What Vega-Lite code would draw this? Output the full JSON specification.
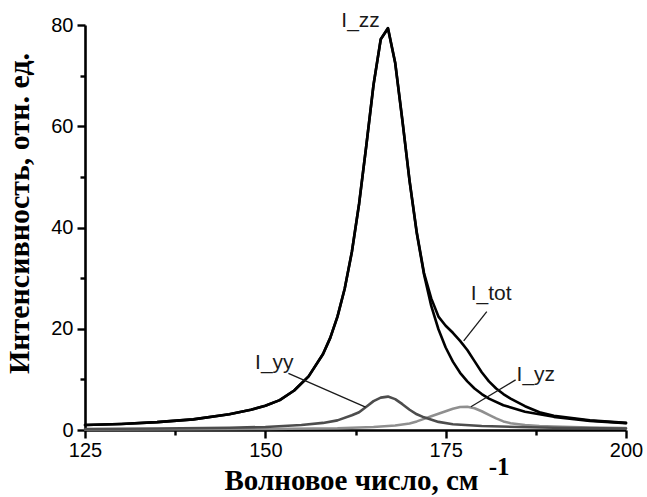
{
  "$schema": "https://vega.github.io/schema/vega-lite/v6.json",
  "width": 541,
  "height": 405,
  "autosize": "none",
  "padding": {"left": 85, "top": 25, "right": 21, "bottom": 67},
  "background": "white",
  "config": {
    "view": {"stroke": null},
    "axis": {
      "grid": false,
      "domainColor": "black",
      "domainWidth": 2.6,
      "tickColor": "black",
      "tickWidth": 2.4,
      "labelFont": "Liberation Sans",
      "labelFontSize": 20,
      "labelColor": "black",
      "titleFont": "Liberation Serif",
      "titleFontSize": 29,
      "titleFontWeight": "bold",
      "titleColor": "black",
      "labelFlush": false,
      "labelOverlap": false
    }
  },
  "encoding": {
    "x": {
      "field": "x",
      "type": "quantitative",
      "scale": {"domain": [125, 200], "nice": false, "zero": false},
      "axis": {
        "title": "Волновое число, см",
        "values": [125, 137.5, 150, 162.5, 175, 187.5, 200],
        "labelExpr": "datum.value % 25 === 0 ? datum.label : ''",
        "tickSize": {"condition": {"test": "datum.value % 25 !== 0", "value": 5}, "value": 8},
        "labelPadding": 2,
        "titleX": 266,
        "titleY": 59,
        "titleBaseline": "alphabetic",
        "titleAlign": "center"
      }
    },
    "y": {
      "field": "y",
      "type": "quantitative",
      "scale": {"domain": [0, 80], "nice": false},
      "axis": {
        "title": "Интенсивность, отн. ед.",
        "values": [0, 10, 20, 30, 40, 50, 60, 70, 80],
        "labelExpr": "datum.value % 20 === 0 ? datum.label : ''",
        "tickSize": {"condition": {"test": "datum.value % 20 !== 0", "value": 5}, "value": 8},
        "labelPadding": 4,
        "titleX": -57,
        "titleY": 188,
        "titleFontSize": 30,
        "titleBaseline": "alphabetic",
        "titleAlign": "center",
        "titleAngle": -90
      }
    }
  },
  "layer": [
    {
      "data": {"values": [
        {"s": "I_yz", "x": 125, "y": 0.1}, {"s": "I_yz", "x": 140, "y": 0.15}, {"s": "I_yz", "x": 150, "y": 0.2}, {"s": "I_yz", "x": 160, "y": 0.35}, {"s": "I_yz", "x": 165, "y": 0.6}, {"s": "I_yz", "x": 168, "y": 0.9}, {"s": "I_yz", "x": 170, "y": 1.3}, {"s": "I_yz", "x": 171, "y": 1.7}, {"s": "I_yz", "x": 172, "y": 2.2}, {"s": "I_yz", "x": 173, "y": 2.7}, {"s": "I_yz", "x": 174, "y": 3.2}, {"s": "I_yz", "x": 175, "y": 3.7}, {"s": "I_yz", "x": 176, "y": 4.2}, {"s": "I_yz", "x": 177, "y": 4.55}, {"s": "I_yz", "x": 178, "y": 4.6}, {"s": "I_yz", "x": 179, "y": 4.3}, {"s": "I_yz", "x": 180, "y": 3.7}, {"s": "I_yz", "x": 181, "y": 3.0}, {"s": "I_yz", "x": 182, "y": 2.3}, {"s": "I_yz", "x": 183, "y": 1.7}, {"s": "I_yz", "x": 184, "y": 1.35}, {"s": "I_yz", "x": 186, "y": 1.0}, {"s": "I_yz", "x": 188, "y": 0.8}, {"s": "I_yz", "x": 190, "y": 0.7}, {"s": "I_yz", "x": 195, "y": 0.5}, {"s": "I_yz", "x": 200, "y": 0.4},
        {"s": "I_yy", "x": 125, "y": 0.2}, {"s": "I_yy", "x": 135, "y": 0.3}, {"s": "I_yy", "x": 145, "y": 0.45}, {"s": "I_yy", "x": 150, "y": 0.6}, {"s": "I_yy", "x": 155, "y": 1.0}, {"s": "I_yy", "x": 158, "y": 1.4}, {"s": "I_yy", "x": 160, "y": 1.9}, {"s": "I_yy", "x": 162, "y": 2.9}, {"s": "I_yy", "x": 163, "y": 3.5}, {"s": "I_yy", "x": 164, "y": 4.6}, {"s": "I_yy", "x": 165, "y": 5.7}, {"s": "I_yy", "x": 166, "y": 6.4}, {"s": "I_yy", "x": 167, "y": 6.6}, {"s": "I_yy", "x": 168, "y": 6.1}, {"s": "I_yy", "x": 169, "y": 5.1}, {"s": "I_yy", "x": 170, "y": 4.0}, {"s": "I_yy", "x": 171, "y": 3.1}, {"s": "I_yy", "x": 172, "y": 2.5}, {"s": "I_yy", "x": 174, "y": 1.6}, {"s": "I_yy", "x": 176, "y": 1.15}, {"s": "I_yy", "x": 180, "y": 0.8}, {"s": "I_yy", "x": 185, "y": 0.6}, {"s": "I_yy", "x": 190, "y": 0.45}, {"s": "I_yy", "x": 200, "y": 0.3},
        {"s": "I_tot", "x": 125, "y": 1.0}, {"s": "I_tot", "x": 130, "y": 1.2}, {"s": "I_tot", "x": 135, "y": 1.55}, {"s": "I_tot", "x": 140, "y": 2.1}, {"s": "I_tot", "x": 145, "y": 3.1}, {"s": "I_tot", "x": 148, "y": 4.0}, {"s": "I_tot", "x": 150, "y": 4.8}, {"s": "I_tot", "x": 152, "y": 5.9}, {"s": "I_tot", "x": 154, "y": 7.8}, {"s": "I_tot", "x": 156, "y": 10.6}, {"s": "I_tot", "x": 158, "y": 15.0}, {"s": "I_tot", "x": 159, "y": 18.2}, {"s": "I_tot", "x": 160, "y": 22.4}, {"s": "I_tot", "x": 161, "y": 27.9}, {"s": "I_tot", "x": 162, "y": 35.2}, {"s": "I_tot", "x": 163, "y": 44.7}, {"s": "I_tot", "x": 164, "y": 56.2}, {"s": "I_tot", "x": 165, "y": 68.2}, {"s": "I_tot", "x": 166, "y": 77.2}, {"s": "I_tot", "x": 167, "y": 79.4}, {"s": "I_tot", "x": 168, "y": 72.6}, {"s": "I_tot", "x": 169, "y": 61.2}, {"s": "I_tot", "x": 170, "y": 49.2}, {"s": "I_tot", "x": 171, "y": 39.0}, {"s": "I_tot", "x": 172, "y": 31.0}, {"s": "I_tot", "x": 173, "y": 26.0}, {"s": "I_tot", "x": 174, "y": 22.4}, {"s": "I_tot", "x": 175, "y": 20.6}, {"s": "I_tot", "x": 176, "y": 19.2}, {"s": "I_tot", "x": 177, "y": 17.6}, {"s": "I_tot", "x": 178, "y": 15.8}, {"s": "I_tot", "x": 179, "y": 13.6}, {"s": "I_tot", "x": 180, "y": 11.4}, {"s": "I_tot", "x": 181, "y": 9.6}, {"s": "I_tot", "x": 182, "y": 8.2}, {"s": "I_tot", "x": 183, "y": 7.1}, {"s": "I_tot", "x": 184, "y": 6.2}, {"s": "I_tot", "x": 186, "y": 4.7}, {"s": "I_tot", "x": 188, "y": 3.5}, {"s": "I_tot", "x": 190, "y": 2.8}, {"s": "I_tot", "x": 195, "y": 1.9}, {"s": "I_tot", "x": 200, "y": 1.4},
        {"s": "I_zz", "x": 125, "y": 1.0}, {"s": "I_zz", "x": 130, "y": 1.2}, {"s": "I_zz", "x": 135, "y": 1.55}, {"s": "I_zz", "x": 140, "y": 2.1}, {"s": "I_zz", "x": 145, "y": 3.1}, {"s": "I_zz", "x": 148, "y": 4.0}, {"s": "I_zz", "x": 150, "y": 4.8}, {"s": "I_zz", "x": 152, "y": 5.9}, {"s": "I_zz", "x": 154, "y": 7.8}, {"s": "I_zz", "x": 156, "y": 10.6}, {"s": "I_zz", "x": 158, "y": 15.0}, {"s": "I_zz", "x": 159, "y": 18.2}, {"s": "I_zz", "x": 160, "y": 22.4}, {"s": "I_zz", "x": 161, "y": 27.9}, {"s": "I_zz", "x": 162, "y": 35.2}, {"s": "I_zz", "x": 163, "y": 44.7}, {"s": "I_zz", "x": 164, "y": 56.2}, {"s": "I_zz", "x": 165, "y": 68.2}, {"s": "I_zz", "x": 166, "y": 77.2}, {"s": "I_zz", "x": 167, "y": 79.3}, {"s": "I_zz", "x": 168, "y": 72.5}, {"s": "I_zz", "x": 169, "y": 61.1}, {"s": "I_zz", "x": 170, "y": 49.1}, {"s": "I_zz", "x": 171, "y": 38.8}, {"s": "I_zz", "x": 172, "y": 30.7}, {"s": "I_zz", "x": 173, "y": 24.5}, {"s": "I_zz", "x": 174, "y": 19.9}, {"s": "I_zz", "x": 175, "y": 16.3}, {"s": "I_zz", "x": 176, "y": 13.5}, {"s": "I_zz", "x": 177, "y": 11.3}, {"s": "I_zz", "x": 178, "y": 9.6}, {"s": "I_zz", "x": 179, "y": 8.2}, {"s": "I_zz", "x": 180, "y": 7.1}, {"s": "I_zz", "x": 181, "y": 6.2}, {"s": "I_zz", "x": 183, "y": 4.9}, {"s": "I_zz", "x": 186, "y": 3.6}, {"s": "I_zz", "x": 188, "y": 3.1}, {"s": "I_zz", "x": 190, "y": 2.6}, {"s": "I_zz", "x": 195, "y": 1.8}, {"s": "I_zz", "x": 200, "y": 1.35}
      ]},
      "mark": {"type": "line", "strokeJoin": "round", "strokeCap": "round"},
      "encoding": {
        "color": {"field": "s", "type": "nominal", "legend": null, "scale": {"domain": ["I_yz", "I_yy", "I_tot", "I_zz"], "range": ["#8f8f8f", "#4d4d4d", "#000000", "#000000"]}},
        "strokeWidth": {"field": "s", "type": "nominal", "legend": null, "scale": {"domain": ["I_yz", "I_yy", "I_tot", "I_zz"], "range": [2.6, 2.6, 3.4, 3.4]}},
        "order": {"field": "x", "type": "quantitative"}
      }
    },
    {
      "data": {"values": [
        {"x": 180.7, "y": 23.4, "x2": 177.5, "y2": 17.6},
        {"x": 153.2, "y": 11.2, "x2": 163.9, "y2": 4.5},
        {"x": 184.7, "y": 9.9, "x2": 178.5, "y2": 4.6}
      ]},
      "mark": {"type": "rule", "color": "#1a1a1a", "strokeWidth": 1.3},
      "encoding": {
        "x2": {"field": "x2"},
        "y2": {"field": "y2"}
      }
    },
    {
      "data": {"values": [
        {"label": "I_zz", "x": 163.2, "y": 79.6},
        {"label": "I_tot", "x": 181.3, "y": 25.7},
        {"label": "I_yy", "x": 151.25, "y": 12.05},
        {"label": "I_yz", "x": 187.5, "y": 9.74}
      ]},
      "mark": {"type": "text", "font": "Liberation Sans", "fontSize": 21, "color": "#1a1a1a", "align": "center", "baseline": "alphabetic"},
      "encoding": {
        "text": {"field": "label"}
      }
    },
    {
      "data": {"values": [
        {"label": "-1", "x": 182.4, "y": -8.9}
      ]},
      "mark": {"type": "text", "font": "Liberation Serif", "fontSize": 25, "fontWeight": "bold", "color": "black", "align": "center", "baseline": "alphabetic"},
      "encoding": {
        "text": {"field": "label"}
      }
    }
  ]
}
